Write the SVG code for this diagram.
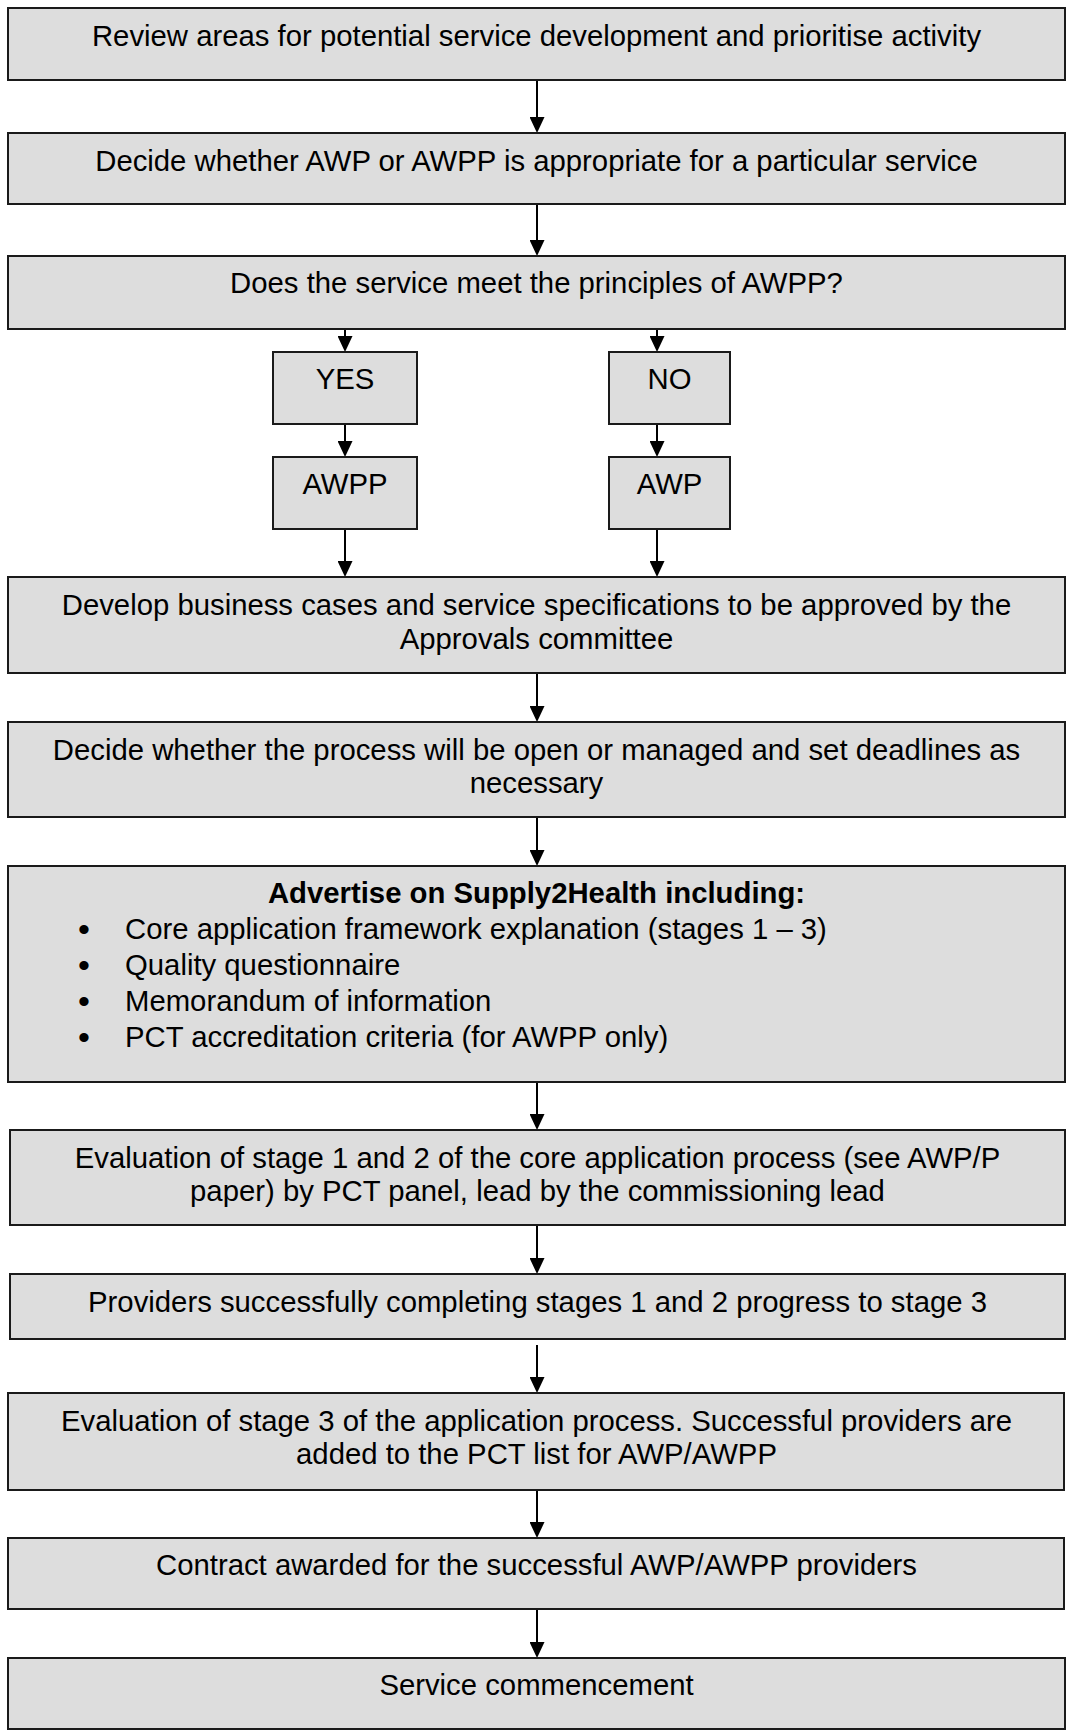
<svg xmlns="http://www.w3.org/2000/svg" width="1067" height="1731" viewBox="0 0 1067 1731">
<style>
.box{fill:#dddddd;stroke:#1a1a1a;stroke-width:2}
.t{font-family:"Liberation Sans",Arial,sans-serif;font-size:29.3px;fill:#000;text-anchor:middle}
.tl{font-family:"Liberation Sans",Arial,sans-serif;font-size:29.3px;fill:#000}
.bu{font-family:"Liberation Sans",Arial,sans-serif;font-size:34px;fill:#000;text-anchor:middle}
.b{font-weight:bold}
.c{stroke:#000;stroke-width:2;fill:none}
</style>
<defs>
<marker id="ah" viewBox="0 0 16 15" refX="0" refY="7.5" markerWidth="16" markerHeight="15" markerUnits="userSpaceOnUse" orient="auto">
<path d="M0,0 L16,7.5 L0,15 z" fill="#000"/>
</marker>
</defs>
<rect width="1067" height="1731" fill="#fff"/>
<g id="connectors">
<path class="c" marker-end="url(#ah)" d="M537,80 V117"/>
<path class="c" marker-end="url(#ah)" d="M537,204 V240"/>
<path class="c" marker-end="url(#ah)" d="M345,329 V336"/>
<path class="c" marker-end="url(#ah)" d="M657,329 V336"/>
<path class="c" marker-end="url(#ah)" d="M345,424 V441"/>
<path class="c" marker-end="url(#ah)" d="M657,424 V441"/>
<path class="c" marker-end="url(#ah)" d="M345,529 V561"/>
<path class="c" marker-end="url(#ah)" d="M657,529 V561"/>
<path class="c" marker-end="url(#ah)" d="M537,673 V706"/>
<path class="c" marker-end="url(#ah)" d="M537,817 V850"/>
<path class="c" marker-end="url(#ah)" d="M537,1082 V1114"/>
<path class="c" marker-end="url(#ah)" d="M537,1225 V1258"/>
<path class="c" marker-end="url(#ah)" d="M537,1345 V1377"/>
<path class="c" marker-end="url(#ah)" d="M537,1490 V1522"/>
<path class="c" marker-end="url(#ah)" d="M537,1609 V1642"/>
</g>
<g id="n1"><rect class="box" x="8" y="8" width="1057" height="72"/><text class="t" x="536.5" y="46">Review areas for potential service development and prioritise activity</text></g>
<g id="n2"><rect class="box" x="8" y="133" width="1057" height="71"/><text class="t" x="536.5" y="171">Decide whether AWP or AWPP is appropriate for a particular service</text></g>
<g id="n3"><rect class="box" x="8" y="256" width="1057" height="73"/><text class="t" x="536.5" y="293">Does the service meet the principles of AWPP?</text></g>
<g id="yes"><rect class="box" x="273" y="352" width="144" height="72"/><text class="t" x="345" y="389">YES</text></g>
<g id="no"><rect class="box" x="609" y="352" width="121" height="72"/><text class="t" x="669.5" y="389">NO</text></g>
<g id="awpp"><rect class="box" x="273" y="457" width="144" height="72"/><text class="t" x="345" y="494">AWPP</text></g>
<g id="awp"><rect class="box" x="609" y="457" width="121" height="72"/><text class="t" x="669.5" y="494">AWP</text></g>
<g id="n4"><rect class="box" x="8" y="577" width="1057" height="96"/><text class="t" x="536.5" y="615">Develop business cases and service specifications to be approved by the</text><text class="t" x="536.5" y="649">Approvals committee</text></g>
<g id="n5"><rect class="box" x="8" y="722" width="1057" height="95"/><text class="t" x="536.5" y="760">Decide whether the process will be open or managed and set deadlines as</text><text class="t" x="536.5" y="793">necessary</text></g>
<g id="n6"><rect class="box" x="8" y="866" width="1057" height="216"/>
<text class="t b" x="536.5" y="903">Advertise on Supply2Health including:</text>
<text class="bu" x="84" y="941">•</text><text class="tl" x="125" y="939">Core application framework explanation (stages 1 – 3)</text>
<text class="bu" x="84" y="977">•</text><text class="tl" x="125" y="975">Quality questionnaire</text>
<text class="bu" x="84" y="1013">•</text><text class="tl" x="125" y="1011">Memorandum of information</text>
<text class="bu" x="84" y="1049">•</text><text class="tl" x="125" y="1047">PCT accreditation criteria (for AWPP only)</text>
</g>
<g id="n7"><rect class="box" x="10" y="1130" width="1055" height="95"/><text class="t" x="537.5" y="1168">Evaluation of stage 1 and 2 of the core application process (see AWP/P</text><text class="t" x="537.5" y="1201">paper) by PCT panel, lead by the commissioning lead</text></g>
<g id="n8"><rect class="box" x="10" y="1274" width="1055" height="65"/><text class="t" x="537.5" y="1312">Providers successfully completing stages 1 and 2 progress to stage 3</text></g>
<g id="n9"><rect class="box" x="8" y="1393" width="1056" height="97"/><text class="t" x="536.5" y="1431">Evaluation of stage 3 of the application process. Successful providers are</text><text class="t" x="536.5" y="1464">added to the PCT list for AWP/AWPP</text></g>
<g id="n10"><rect class="box" x="8" y="1538" width="1056" height="71"/><text class="t" x="536.5" y="1575">Contract awarded for the successful AWP/AWPP providers</text></g>
<g id="n11"><rect class="box" x="8" y="1658" width="1057" height="71"/><text class="t" x="536.5" y="1695">Service commencement</text></g>
</svg>
